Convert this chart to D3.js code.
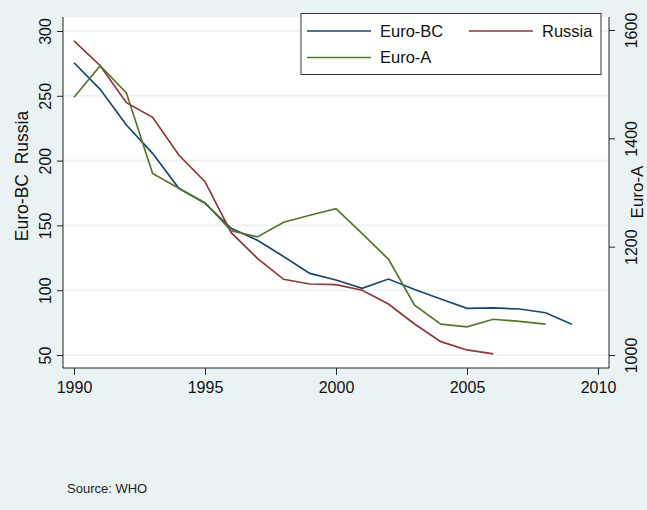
<!DOCTYPE html>
<html>
<head>
<meta charset="utf-8">
<script src="https://cdn.jsdelivr.net/npm/d3@7"></script>
<style>
  html, body { margin: 0; padding: 0; background: #eaf2f3; }
  svg { display: block; font-family: "Liberation Sans", Arial, sans-serif; }
</style>
</head>
<body>
<svg id="chart" width="647" height="510"></svg>
<script>
// Mortality trends, 1990-2009
const years   = d3.range(1990, 2010);
const euroBC  = [275.5, 255, 227.5, 205.6, 178.6, 167, 147.8, 138.5, 126, 113,
                 107.9, 101.5, 108.6, 100.5, 93.2, 86, 86.3, 85.5, 82.6, 73.7];
const russia  = [292.3, 273.2, 244.7, 233.4, 204.3, 183.7, 144.4, 124.6, 108.4, 104.8,
                 104.3, 100, 89.3, 73.9, 60.3, 53.9, 50.8];
const euroA   = [1475.7, 1534, 1484, 1335, 1307.7, 1281, 1229.5, 1218, 1245, 1258,
                 1270, 1224, 1177, 1092, 1057, 1052, 1066, 1062, 1057];

const xTicks      = [1990, 1995, 2000, 2005, 2010];
const leftTicks   = [50, 100, 150, 200, 250, 300];
const rightTicks  = [1000, 1200, 1400, 1600];

const series = [
  { name: "Euro-BC", values: euroBC, axis: "left",  color: "#1a476f" },
  { name: "Russia",  values: russia, axis: "left",  color: "#90353b" },
  { name: "Euro-A",  values: euroA,  axis: "right", color: "#55752f" }
];

const svg = d3.select("#chart");
const W = 647, H = 510;
const plot = { left: 63, right: 609, top: 17, bottom: 368 };

svg.append("rect").attr("width", W).attr("height", H).attr("fill", "#eaf2f3");

const x  = d3.scaleLinear().domain([1990, 2010]).range([74, 598]);
const yL = d3.scaleLinear().domain([50, 300]).range([355, 31]);
const yR = d3.scaleLinear().domain([1000, 1600]).range([355, 30]);

// plot region
svg.append("rect")
  .attr("x", plot.left).attr("y", plot.top)
  .attr("width", plot.right - plot.left).attr("height", plot.bottom - plot.top)
  .attr("fill", "#ffffff");

// horizontal grid at left-axis ticks
svg.append("g").selectAll("line").data(leftTicks).join("line")
  .attr("x1", plot.left + 1).attr("x2", plot.right - 1)
  .attr("y1", d => yL(d)).attr("y2", d => yL(d))
  .attr("stroke", "#eaf2f3").attr("stroke-width", 1.6);

// axis lines
const axisColor = "#222";
svg.append("line").attr("x1", plot.left).attr("x2", plot.left)
  .attr("y1", plot.top).attr("y2", plot.bottom).attr("stroke", axisColor);
svg.append("line").attr("x1", plot.right).attr("x2", plot.right)
  .attr("y1", plot.top).attr("y2", plot.bottom).attr("stroke", axisColor);
svg.append("line").attr("x1", plot.left).attr("x2", plot.right)
  .attr("y1", plot.bottom).attr("y2", plot.bottom).attr("stroke", axisColor);

function styleAxis(g) {
  g.select(".domain").remove();
  g.selectAll(".tick line").attr("stroke", axisColor);
  g.selectAll(".tick text").attr("fill", "#111").style("font-size", "16px")
    .style("font-family", "'Liberation Sans', Arial, sans-serif");
}

const fmt = d3.format("d");

// bottom axis
svg.append("g")
  .attr("transform", `translate(0,${plot.bottom})`)
  .call(d3.axisBottom(x).tickValues(xTicks).tickFormat(fmt).tickSize(7).tickPadding(7))
  .call(styleAxis);

// left axis with rotated labels
svg.append("g")
  .attr("transform", `translate(${plot.left},0)`)
  .call(d3.axisLeft(yL).tickValues(leftTicks).tickFormat(fmt).tickSize(6))
  .call(styleAxis)
  .call(g => g.selectAll(".tick text")
    .attr("x", 0).attr("y", 0).attr("dy", "0.35em")
    .attr("text-anchor", "middle")
    .attr("transform", "translate(-18,0) rotate(-90)"));

// right axis with rotated labels
svg.append("g")
  .attr("transform", `translate(${plot.right},0)`)
  .call(d3.axisRight(yR).tickValues(rightTicks).tickFormat(fmt).tickSize(6))
  .call(styleAxis)
  .call(g => g.selectAll(".tick text")
    .attr("x", 0).attr("y", 0).attr("dy", "0.35em")
    .attr("text-anchor", "middle")
    .attr("transform", "translate(22,0) rotate(-90)"));

// axis titles
svg.append("text")
  .attr("transform", "translate(22,176) rotate(-90)")
  .attr("text-anchor", "middle").attr("dy", "0.35em")
  .attr("fill", "#111").style("font-size", "17.5px")
  .style("white-space", "pre")
  .text("Euro-BC  Russia");

svg.append("text")
  .attr("transform", "translate(637,192) rotate(-90)")
  .attr("text-anchor", "middle").attr("dy", "0.35em")
  .attr("fill", "#111").style("font-size", "17px")
  .text("Euro-A");

// series lines
const line = s => d3.line()
  .x((d, i) => x(years[i]))
  .y(d => (s.axis === "left" ? yL(d) : yR(d)));

svg.append("g").selectAll("path").data(series).join("path")
  .attr("d", s => line(s)(s.values))
  .attr("fill", "none")
  .attr("stroke", s => s.color)
  .attr("stroke-width", 1.7)
  .attr("stroke-linejoin", "miter");

// legend
const lg = svg.append("g");
lg.append("rect")
  .attr("x", 301).attr("y", 13.5).attr("width", 300).attr("height", 61)
  .attr("fill", "#ffffff").attr("stroke", "#333").attr("stroke-width", 1);
const legendPos = [
  { x: 307, y: 31 },
  { x: 469, y: 31 },
  { x: 307, y: 57.5 }
];
series.forEach((s, i) => {
  const p = legendPos[i];
  lg.append("line")
    .attr("x1", p.x).attr("x2", p.x + 64)
    .attr("y1", p.y).attr("y2", p.y)
    .attr("stroke", s.color).attr("stroke-width", 1.7);
  lg.append("text")
    .attr("x", p.x + 73).attr("y", p.y).attr("dy", "0.35em")
    .attr("fill", "#111").style("font-size", "16.5px")
    .text(s.name);
});

// source note
svg.append("text")
  .attr("x", 67).attr("y", 493)
  .attr("fill", "#222").style("font-size", "13px")
  .text("Source: WHO");
</script>
</body>
</html>
